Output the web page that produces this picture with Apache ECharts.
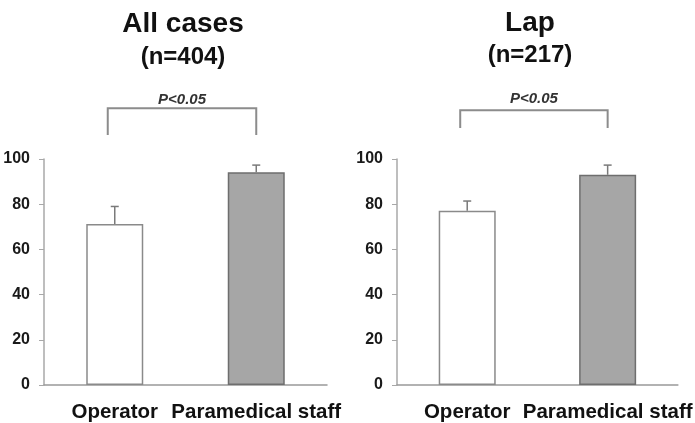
<!DOCTYPE html>
<html>
<head>
<meta charset="utf-8">
<script src="https://cdn.jsdelivr.net/npm/echarts@6/dist/echarts.min.js"></script>
<style>
  html, body { margin: 0; padding: 0; background: #fff; }
  #myChart { width: 695px; height: 423px; }
</style>
</head>
<body>
<div id="myChart"></div>
<script>
// data
var categories = ['Operator', 'Paramedical staff']
var allMeans = [71.2, 94.1]
var allErrs = [7.8, 3.2]
var lapMeans = [77.1, 93.0]
var lapErrs = [4.3, 4.3]
var yMin = 0, yMax = 100, yStep = 20
var pLabel = 'P<0.05'
// bracket levels in axis units: [top, leg bottom, text]
var allBracket = [122.5, 110.6, 126.2]
var lapBracket = [121.6, 113.7, 126.4]

var font = '"Liberation Sans", Arial, sans-serif'
var barFills = ['#ffffff', '#a6a6a6']
var barBorders = ['#8a8a8a', '#6e6e6e']

function barData (means) {
    return means.map(function (v, i) {
        return {
            value: v,
            itemStyle: { color: barFills[i], borderColor: barBorders[i], borderWidth: 1.5 }
        }
    })
}

function errorSeries (idx, means, errs) {
    return {
        type: 'custom',
        xAxisIndex: idx,
        yAxisIndex: idx,
        z: 5,
        clip: false,
        data: means.map(function (m, i) { return [i, m, errs[i]] }),
        renderItem: function (params, api) {
            var top = api.coord([api.value(0), api.value(1) + api.value(2)])
            var base = api.coord([api.value(0), api.value(1)])
            var st = { stroke: '#7a7a7a', lineWidth: 1.5 }
            return {
                type: 'group',
                children: [
                    { type: 'line', shape: { x1: base[0], y1: base[1], x2: top[0], y2: top[1] }, style: st },
                    { type: 'line', shape: { x1: top[0] - 4, y1: top[1], x2: top[0] + 4, y2: top[1] }, style: st }
                ]
            }
        }
    }
}

function bracketSeries (idx, lv) {
    return {
        type: 'custom',
        xAxisIndex: idx,
        yAxisIndex: idx,
        z: 5,
        clip: false,
        silent: true,
        data: [[0, 1, lv[0], lv[1], lv[2]]],
        renderItem: function (params, api) {
            var a = api.coord([api.value(0), api.value(2)])
            var b = api.coord([api.value(1), api.value(2)])
            var leg = api.coord([0, api.value(3)])[1]
            var ty = api.coord([0, api.value(4)])[1]
            var st = { stroke: '#8c8c8c', lineWidth: 2, fill: null }
            return {
                type: 'group',
                children: [
                    { type: 'polyline', shape: { points: [[a[0] - 7, leg], [a[0] - 7, a[1]], [b[0], b[1]], [b[0], leg]] }, style: st },
                    {
                        type: 'text',
                        x: (a[0] - 7 + b[0]) / 2,
                        y: ty,
                        style: {
                            text: pLabel, fill: '#333', align: 'center', verticalAlign: 'middle',
                            font: 'italic bold 15px ' + font
                        }
                    }
                ]
            }
        }
    }
}

function yAxis (idx) {
    return {
        type: 'value',
        gridIndex: idx,
        min: yMin,
        max: yMax,
        interval: yStep,
        axisLine: { show: true, lineStyle: { color: '#a8a8a8', width: 1.5 } },
        axisTick: { show: true, length: 5, lineStyle: { color: '#a8a8a8' } },
        splitLine: { show: false },
        axisLabel: { margin: 14, color: '#1a1a1a', fontSize: 16, fontWeight: 'bold', fontFamily: font }
    }
}

function xAxis (idx) {
    return {
        type: 'category',
        gridIndex: idx,
        data: categories,
        axisLine: { show: true, lineStyle: { color: '#999', width: 1.5 } },
        axisTick: { show: false },
        axisLabel: { margin: 17, color: '#111', fontSize: 20.5, fontWeight: 'bold', fontFamily: font, interval: 0 }
    }
}

function titleText (x, y, text, size) {
    return {
        type: 'text', x: x, y: y,
        style: { text: text, align: 'center', verticalAlign: 'middle', fill: '#111', font: 'bold ' + size + 'px ' + font }
    }
}

var myChart = echarts.init(document.getElementById('myChart'))
var option = {
    animation: false,
    backgroundColor: '#fff',
    grid: [
        { left: 44, top: 159, width: 283, height: 227 },
        { left: 397, top: 159, width: 283, height: 227 }
    ],
    xAxis: [xAxis(0), xAxis(1)],
    yAxis: [yAxis(0), yAxis(1)],
    graphic: [
        titleText(183, 24, 'All cases', 28),
        titleText(183, 57, '(n=404)', 24),
        titleText(530, 23, 'Lap', 28),
        titleText(530, 55, '(n=217)', 24)
    ],
    series: [
        { type: 'bar', xAxisIndex: 0, yAxisIndex: 0, barWidth: 57, data: barData(allMeans) },
        { type: 'bar', xAxisIndex: 1, yAxisIndex: 1, barWidth: 57, data: barData(lapMeans) },
        errorSeries(0, allMeans, allErrs),
        errorSeries(1, lapMeans, lapErrs),
        bracketSeries(0, allBracket),
        bracketSeries(1, lapBracket)
    ]
}
myChart.setOption(option)
</script>
</body>
</html>
